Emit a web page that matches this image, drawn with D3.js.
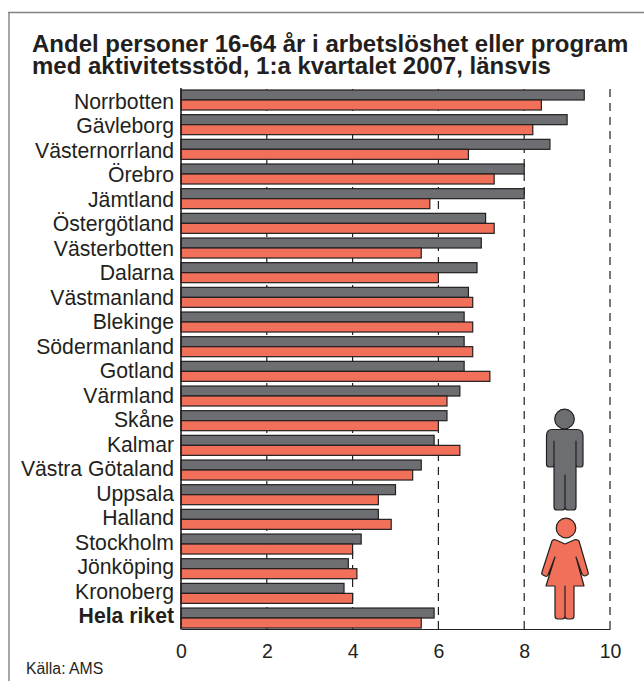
<!DOCTYPE html>
<html>
<head>
<meta charset="utf-8">
<script src="https://cdn.jsdelivr.net/npm/d3@7"></script>
<style>
  html, body { margin: 0; padding: 0; background: #fff; }
  svg { display: block; font-family: "Liberation Sans", Arial, sans-serif; }
</style>
</head>
<body>
<div class="box"></div>
<script>
// Data
const lan = ["Norrbotten", "Gävleborg", "Västernorrland", "Örebro", "Jämtland", "Östergötland",
  "Västerbotten", "Dalarna", "Västmanland", "Blekinge", "Södermanland", "Gotland", "Värmland",
  "Skåne", "Kalmar", "Västra Götaland", "Uppsala", "Halland", "Stockholm", "Jönköping",
  "Kronoberg", "Hela riket"];
const man = [9.4, 9.0, 8.6, 8.0, 8.0, 7.1, 7.0, 6.9, 6.7, 6.6, 6.6, 6.6, 6.5, 6.2, 5.9, 5.6, 5.0, 4.6, 4.2, 3.9, 3.8, 5.9];
const kvinna = [8.4, 8.2, 6.7, 7.3, 5.8, 7.3, 5.6, 6.0, 6.8, 6.8, 6.8, 7.2, 6.2, 6.0, 6.5, 5.4, 4.6, 4.9, 4.0, 4.1, 4.0, 5.6];
const xTicks = [0, 2, 4, 6, 8, 10];
const titleLines = ["Andel personer 16-64 år i arbetslöshet eller program",
  "med aktivitetsstöd, 1:a kvartalet 2007, länsvis"];

const w = 644;
const h = 681;
const grey = "#6d6e71";
const red = "#f0705a";
const ink = "#231f20";
const frame = "#808285";

const svg = d3.select(".box").append("svg")
    .attr("width", w)
    .attr("height", h);

// Frame: only top and left edges are inside the picture
svg.append("line")
    .attr("x1", 8).attr("x2", w)
    .attr("y1", 12.5).attr("y2", 12.5)
    .attr("stroke", frame)
    .attr("stroke-width", 1.4);
svg.append("line")
    .attr("x1", 9).attr("x2", 9)
    .attr("y1", 12).attr("y2", h)
    .attr("stroke", frame)
    .attr("stroke-width", 1.4);

// Title
svg.selectAll(".title")
    .data(titleLines)
    .enter()
    .append("text")
    .attr("class", "title")
    .attr("x", 32)
    .attr("y", (d, i) => 52 + i * 22)
    .attr("font-size", "24px")
    .attr("font-weight", "bold")
    .attr("fill", ink)
    .text(d => d);

// Scales
const xScale = d3.scaleLinear().domain([0, 10]).range([181, 610]);
const yScale = d3.scaleBand().domain(lan).range([89.5, 632.2]);
// labels run on a slightly tighter step than the bars
const yLabel = d3.scalePoint().domain(lan).range([108.7, 623]);

// Dashed grid behind the bars
svg.selectAll(".grid")
    .data(xTicks.slice(1))
    .enter()
    .append("line")
    .attr("class", "grid")
    .attr("x1", d => xScale(d))
    .attr("x2", d => xScale(d))
    .attr("y1", 89)
    .attr("y2", 629)
    .attr("stroke", ink)
    .attr("stroke-width", 1.2)
    .attr("stroke-dasharray", "8 6");

// Bars
const barH = 10;
const row = svg.selectAll(".row")
    .data(lan)
    .enter()
    .append("g")
    .attr("class", "row");

row.append("rect")
    .attr("x", xScale(0))
    .attr("y", d => yScale(d) + 0.5)
    .attr("width", (d, i) => xScale(man[i]) - xScale(0))
    .attr("height", barH)
    .attr("fill", grey)
    .attr("stroke", ink)
    .attr("stroke-width", 1.2);

row.append("rect")
    .attr("x", xScale(0))
    .attr("y", d => yScale(d) + 0.5 + barH)
    .attr("width", (d, i) => xScale(kvinna[i]) - xScale(0))
    .attr("height", barH)
    .attr("fill", red)
    .attr("stroke", ink)
    .attr("stroke-width", 1.2);

// Labels
row.append("text")
    .attr("x", 174)
    .attr("y", d => yLabel(d))
    .attr("text-anchor", "end")
    .attr("font-size", "21.2px")
    .attr("font-weight", d => d === "Hela riket" ? "bold" : "normal")
    .attr("fill", ink)
    .text(d => d);

// X axis
const xAxis = d3.axisBottom(xScale).tickValues(xTicks).tickSize(0).tickPadding(15);
const axisG = svg.append("g")
    .attr("transform", "translate(0,629)")
    .call(xAxis);
axisG.selectAll("text")
    .attr("font-size", "19.5px")
    .attr("font-family", "Liberation Sans")
    .attr("fill", ink);
axisG.select(".domain")
    .attr("stroke", ink)
    .attr("stroke-width", 1.2);

// Y axis line
svg.append("line")
    .attr("x1", 181).attr("x2", 181)
    .attr("y1", 88).attr("y2", 629.5)
    .attr("stroke", ink)
    .attr("stroke-width", 1.6);

// Source
svg.append("text")
    .attr("x", 26)
    .attr("y", 674)
    .attr("font-size", "15.8px")
    .attr("fill", ink)
    .text("Källa: AMS");

// Figures
const fig = svg.append("g")
    .attr("stroke", ink)
    .attr("stroke-width", 1.2)
    .attr("stroke-linejoin", "round");

// Man
fig.append("circle").attr("cx", 564.5).attr("cy", 419).attr("r", 9.8).attr("fill", grey);
fig.append("path")
    .attr("fill", grey)
    .attr("d", "M552 429.5 H577 Q583 429.5 583 436 V464 Q583 467 581 467 H578 Q576 467 576 464 V441 V507 Q576 510 573 510 H568 Q565 510 565 507 V475 V507 Q565 510 562 510 H557 Q554 510 554 507 V441 V464 Q554 467 552 467 H549 Q546.5 467 546.5 464 V436 Q546.5 429.5 552 429.5 Z");

// Woman
fig.append("circle").attr("cx", 566).attr("cy", 528).attr("r", 9.8).attr("fill", red);
fig.append("path")
    .attr("fill", red)
    .attr("d", "M552 541 Q553 539 556 540 L565 544 L574 540 Q577 539 579 541 L588 572 Q589 574 587 575 L585 576 Q583 576 582 574 L576 557 L584 586 H574 V616 Q574 619 571 619 H568 Q565 619 565 616 V586 V616 Q565 619 562 619 H558 Q555 619 555 616 V586 H546 L555 557 L548 575 Q547 577 545 576 L543 575 Q541 574 542 572 Z");
</script>
</body>
</html>
